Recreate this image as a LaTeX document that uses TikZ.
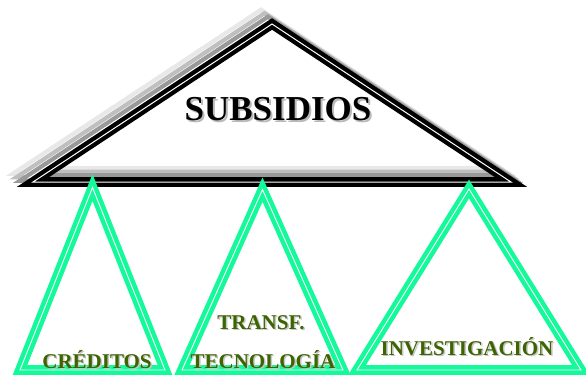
\documentclass[tikz,border=0pt]{standalone}
\usepackage{fontspec}
\setmainfont{Liberation Serif}
\definecolor{tgreen}{RGB}{20,250,155}
\definecolor{tolive}{RGB}{60,100,0}
\begin{document}
\begin{tikzpicture}[x=1pt,y=-1pt,
  roof/.style={draw=#1, line width=4.3pt, double=white, double distance=1pt, line join=miter},
  leg/.style={draw=tgreen, line width=4.5pt, double=white, double distance=0.9pt, line join=miter},
  lbl/.style={font=\bfseries\fontsize{21}{21}\selectfont, text=tolive, anchor=base, inner sep=0pt},
  lblsh/.style={lbl, text=gray!45},
  ttl/.style={font=\bfseries\fontsize{35}{35}\selectfont, text=black, anchor=base, inner sep=0pt},
  ttlsh/.style={ttl, text=gray!55}]
\useasboundingbox (0,0) rectangle (586,378);
\fill[white] (0,0) rectangle (586,378);
\clip (0,0) rectangle (586,378);
% roof vertices
\coordinate (A) at (272,24);
\coordinate (L) at (33,182);
\coordinate (R) at (511,182);
% roof shadows
\draw[roof=gray!18] ([shift={(-11,-11)}]A) -- ([shift={(-11,-11)}]L) -- ([shift={(-11,-11)}]R) -- cycle;
\draw[roof=gray!50] ([shift={(-7.5,-7.5)}]A) -- ([shift={(-7.5,-7.5)}]L) -- ([shift={(-7.5,-7.5)}]R) -- cycle;
\draw[roof=gray!80] ([shift={(-4,-4)}]A) -- ([shift={(-4,-4)}]L) -- ([shift={(-4,-4)}]R) -- cycle;
\draw[roof=black] (A) -- (L) -- (R) -- cycle;
% legs
\coordinate (a1) at (92.5,187.5);
\coordinate (l1) at (20,370);
\coordinate (r1) at (165,370);
\coordinate (a2) at (262.5,189.6);
\coordinate (l2) at (182,370);
\coordinate (r2) at (343,370);
\coordinate (a3) at (469,189);
\coordinate (l3) at (357,370);
\coordinate (r3) at (581,370);
\draw[leg] (a1) -- (l1) -- (r1) -- cycle;
\draw[leg] (a2) -- (l2) -- (r2) -- cycle;
\draw[leg] (a3) -- (l3) -- (r3) -- cycle;
% title
\node[ttlsh] (ts) at (280,122) {SUBSIDIOS};
\node[ttl] (t) at (278,120) {SUBSIDIOS};
% labels
\node[lblsh] (c1s) at (98.5,369.5) {CRÉDITOS};
\node[lbl] (c1) at (97,368) {CRÉDITOS};
\node[lblsh] (c2as) at (262.5,330.5) {TRANSF.};
\node[lbl] (c2a) at (261,329) {TRANSF.};
\node[lblsh] (c2bs) at (264.5,369.5) {TECNOLOGÍA};
\node[lbl] (c2b) at (263,368) {TECNOLOGÍA};
\node[lblsh] (c3s) at (468.5,356.5) {INVESTIGACIÓN};
\node[lbl] (c3) at (467,355) {INVESTIGACIÓN};
\end{tikzpicture}
\end{document}
